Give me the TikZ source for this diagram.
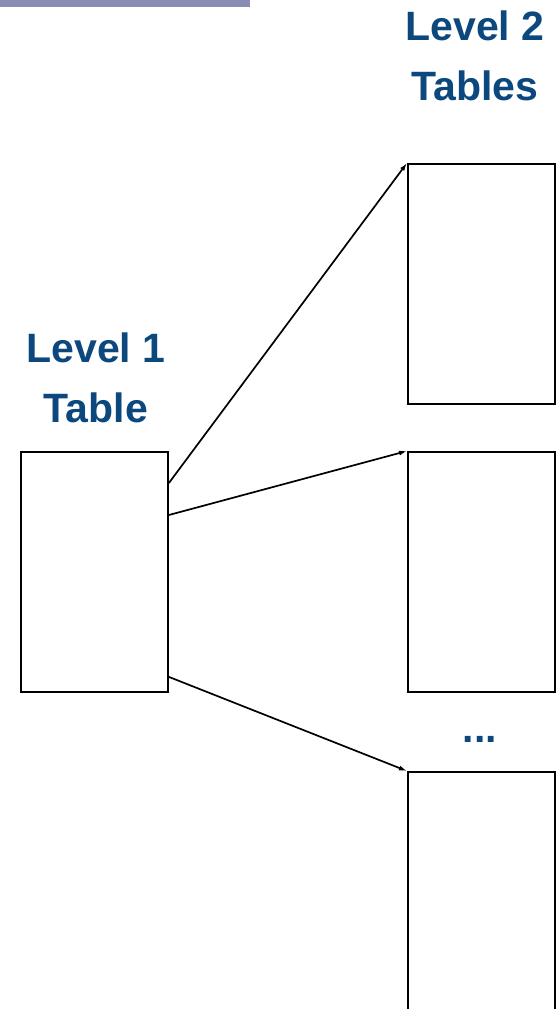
\documentclass[tikz,border=0pt]{standalone}
\usepackage{fontspec}
\setmainfont{Liberation Sans}
\usetikzlibrary{arrows.meta}
\definecolor{headblue}{RGB}{12,72,125}
\definecolor{barlilac}{RGB}{138,140,179}

\begin{document}
\begin{tikzpicture}[
  x=1pt,y=-1pt,
  table/.style={draw=black,line width=1.9pt,minimum width=147pt,minimum height=240pt,inner sep=0pt,anchor=north west},
  link/.style={-{Latex[length=8pt,width=5pt]},draw=black,line width=1.7pt},
  heading/.style={font=\fontsize{41}{60}\selectfont\bfseries,text=headblue,align=center,inner sep=0pt},
]
\useasboundingbox (0,0) rectangle (557,1009);
\fill[barlilac] (0,0) rectangle (250,7);
% level 1
\node[heading,anchor=base] (h1) at (96,422) {Level 1\\Table};
\node[table] (l1) at (20,451) {};
% level 2
\node[heading,anchor=base] (h2) at (475,100) {Level 2\\Tables};
\node[table] (t1) at (407,163) {};
\node[table] (t2) at (407,451) {};
\node[heading,anchor=base] (dots) at (480,742) {...};
\node[table] (t3) at (407,771) {};
% pointers
\draw[link] ([yshift=-32pt]l1.north east) -- (t1.north west);
\draw[link] ([yshift=-64pt]l1.north east) -- (t2.north west);
\draw[link] ([yshift=16pt]l1.south east) -- (t3.north west);
\end{tikzpicture}
\end{document}
